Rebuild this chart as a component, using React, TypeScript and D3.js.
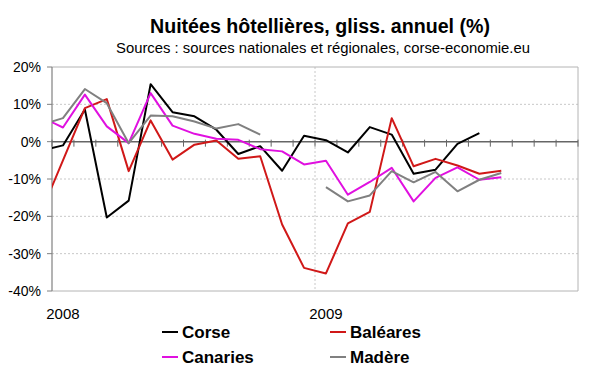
import React, { FC, useMemo } from "react";
import { scaleLinear, line } from "d3";

// months: first entry (Dec 2007) sits left of the axis and is clipped away
export const months = [
  "2007-12",
  "2008-01", "2008-02", "2008-03", "2008-04", "2008-05", "2008-06",
  "2008-07", "2008-08", "2008-09", "2008-10", "2008-11", "2008-12",
  "2009-01", "2009-02", "2009-03", "2009-04", "2009-05", "2009-06",
  "2009-07", "2009-08", "2009-09",
];

const corse = [
  -2.4, -1.0, 8.6, -20.3, -15.8, 15.4, 7.9, 6.8, 3.2, -3.3, -1.2, -7.8, 1.6,
  0.4, -2.9, 3.9, 1.9, -8.6, -7.5, -0.6, 2.3, null,
];
const baleares = [
  -19, -5, 9.0, 11.4, -7.9, 5.7, -4.8, -0.8, 0.3, -4.6, -3.9, -22.2, -33.8,
  -35.3, -21.9, -18.8, 6.3, -6.6, -4.6, -6.4, -8.6, -7.8,
];
const canaries = [
  6.6, 3.8, 12.6, 4.1, -0.4, 13.0, 4.3, 2.1, 0.8, 0.5, -2.0, -2.6, -6.1, -5.1,
  -14.2, -10.8, -7.0, -16.0, -9.7, -6.9, -10.2, -9.5,
];
const madere = [
  4.5, 6.3, 14.1, 10.3, -0.4, 7.0, 6.8, 5.4, 3.5, 4.7, 1.9, null, null, -12.2,
  -16.0, -14.4, -7.9, -10.9, -8.1, -13.3, -10.2, -8.4,
];

const yTicks = [20, 10, 0, -10, -20, -30, -40];
const yearLabels = [
  { month: "2008-01", label: "2008" },
  { month: "2009-01", label: "2009" },
];

const series = [
  { name: "Corse", values: corse, color: "#000000" },
  { name: "Baléares", values: baleares, color: "#d01818" },
  { name: "Canaries", values: canaries, color: "#e010e0" },
  { name: "Madère", values: madere, color: "#808080" },
];

const W = 600;
const H = 372;
const margin = { left: 52, right: 22, top: 67, bottom: 81 };
const FONT = "'Liberation Sans', Arial, Helvetica, sans-serif";

const App: FC = () => {
  const x = useMemo(
    () =>
      scaleLinear()
        .domain([0, 24])
        .range([margin.left, W - margin.right]),
    []
  );
  const y = useMemo(
    () =>
      scaleLinear()
        .domain([-40, 20])
        .range([H - margin.bottom, margin.top]),
    []
  );

  // category i sits in the middle of its month slot; months[0] is Dec 2007
  const pos = (i: number) => x(i - 0.5);

  const lineGen = line<number | null>()
    .defined((d) => d !== null)
    .x((_, i) => pos(i))
    .y((d) => y(d as number));

  const x0 = x(0);
  const x1 = x(24);
  const yTop = y(20);
  const yBot = y(-40);
  const yZero = y(0);
  const monthTicks = Array.from({ length: 25 }, (_, i) => i);

  return (
    <div style={{ position: "fixed", left: 0, top: 0 }}>
      <svg width={W} height={H} style={{ display: "block", background: "#fff" }}>
        <defs>
          <clipPath id="plot-clip">
            <rect x={x0} y={yTop - 5} width={x1 - x0} height={yBot - yTop + 10} />
          </clipPath>
        </defs>

        <text
          x={320}
          y={33}
          textAnchor="middle"
          fontFamily={FONT}
          fontWeight="bold"
          fontSize={20}
          textLength={340}
          lengthAdjust="spacingAndGlyphs"
        >
          Nuitées hôtellières, gliss. annuel (%)
        </text>
        <text
          x={323}
          y={53}
          textAnchor="middle"
          fontFamily={FONT}
          fontSize={14}
          textLength={414}
          lengthAdjust="spacingAndGlyphs"
        >
          Sources : sources nationales et régionales, corse-economie.eu
        </text>

        {/* horizontal dashed gridlines */}
        {yTicks
          .filter((t) => t !== 0 && t !== 20 && t !== -40)
          .map((t) => (
            <line
              key={t}
              x1={x0}
              x2={x1}
              y1={y(t)}
              y2={y(t)}
              stroke="#c8c8c8"
              strokeDasharray="2,2"
            />
          ))}
        {/* vertical gridline at 2009 */}
        <line
          x1={x(12)}
          x2={x(12)}
          y1={yTop}
          y2={yBot}
          stroke="#c8c8c8"
          strokeDasharray="2,2"
        />

        {/* plot frame */}
        <polyline
          points={`${x0},${yTop} ${x1},${yTop} ${x1},${yBot} ${x0},${yBot}`}
          fill="none"
          stroke="#b4b4b4"
        />
        <line x1={x0} x2={x0} y1={yTop} y2={yBot} stroke="#808080" strokeWidth={1.2} />

        {/* y axis ticks and labels */}
        {yTicks.map((t) => (
          <g key={t}>
            <line x1={x0 - 5} x2={x0} y1={y(t)} y2={y(t)} stroke="#808080" />
            <text
              x={x0 - 11}
              y={y(t)}
              dy="0.36em"
              textAnchor="end"
              fontFamily={FONT}
              fontSize={14}
            >
              {`${t}%`}
            </text>
          </g>
        ))}

        {/* zero axis with month ticks */}
        <line x1={x0} x2={x1} y1={yZero} y2={yZero} stroke="#666" strokeWidth={1.5} />
        {monthTicks.map((m) => (
          <line
            key={m}
            x1={x(m)}
            x2={x(m)}
            y1={yZero - 2}
            y2={yZero + 5}
            stroke="#666"
          />
        ))}

        {yearLabels.map((d) => (
          <text
            key={d.label}
            x={pos(months.indexOf(d.month))}
            y={319}
            textAnchor="middle"
            fontFamily={FONT}
            fontSize={15}
          >
            {d.label}
          </text>
        ))}

        <g clipPath="url(#plot-clip)">
          {series.map((s) => (
            <path
              key={s.name}
              d={lineGen(s.values) ?? ""}
              fill="none"
              stroke={s.color}
              strokeWidth={2}
              strokeLinejoin="round"
            />
          ))}
        </g>

        {/* legend */}
        {series.map((s, i) => {
          const lx = i % 2 === 0 ? 162 : 330;
          const ly = i < 2 ? 332 : 357;
          return (
            <g key={s.name}>
              <line x1={lx} x2={lx + 16} y1={ly} y2={ly} stroke={s.color} strokeWidth={2} />
              <text
                x={lx + 20}
                y={ly}
                dy="0.36em"
                fontFamily={FONT}
                fontWeight="bold"
                fontSize={17}
              >
                {s.name}
              </text>
            </g>
          );
        })}
      </svg>
    </div>
  );
};

export default App;
